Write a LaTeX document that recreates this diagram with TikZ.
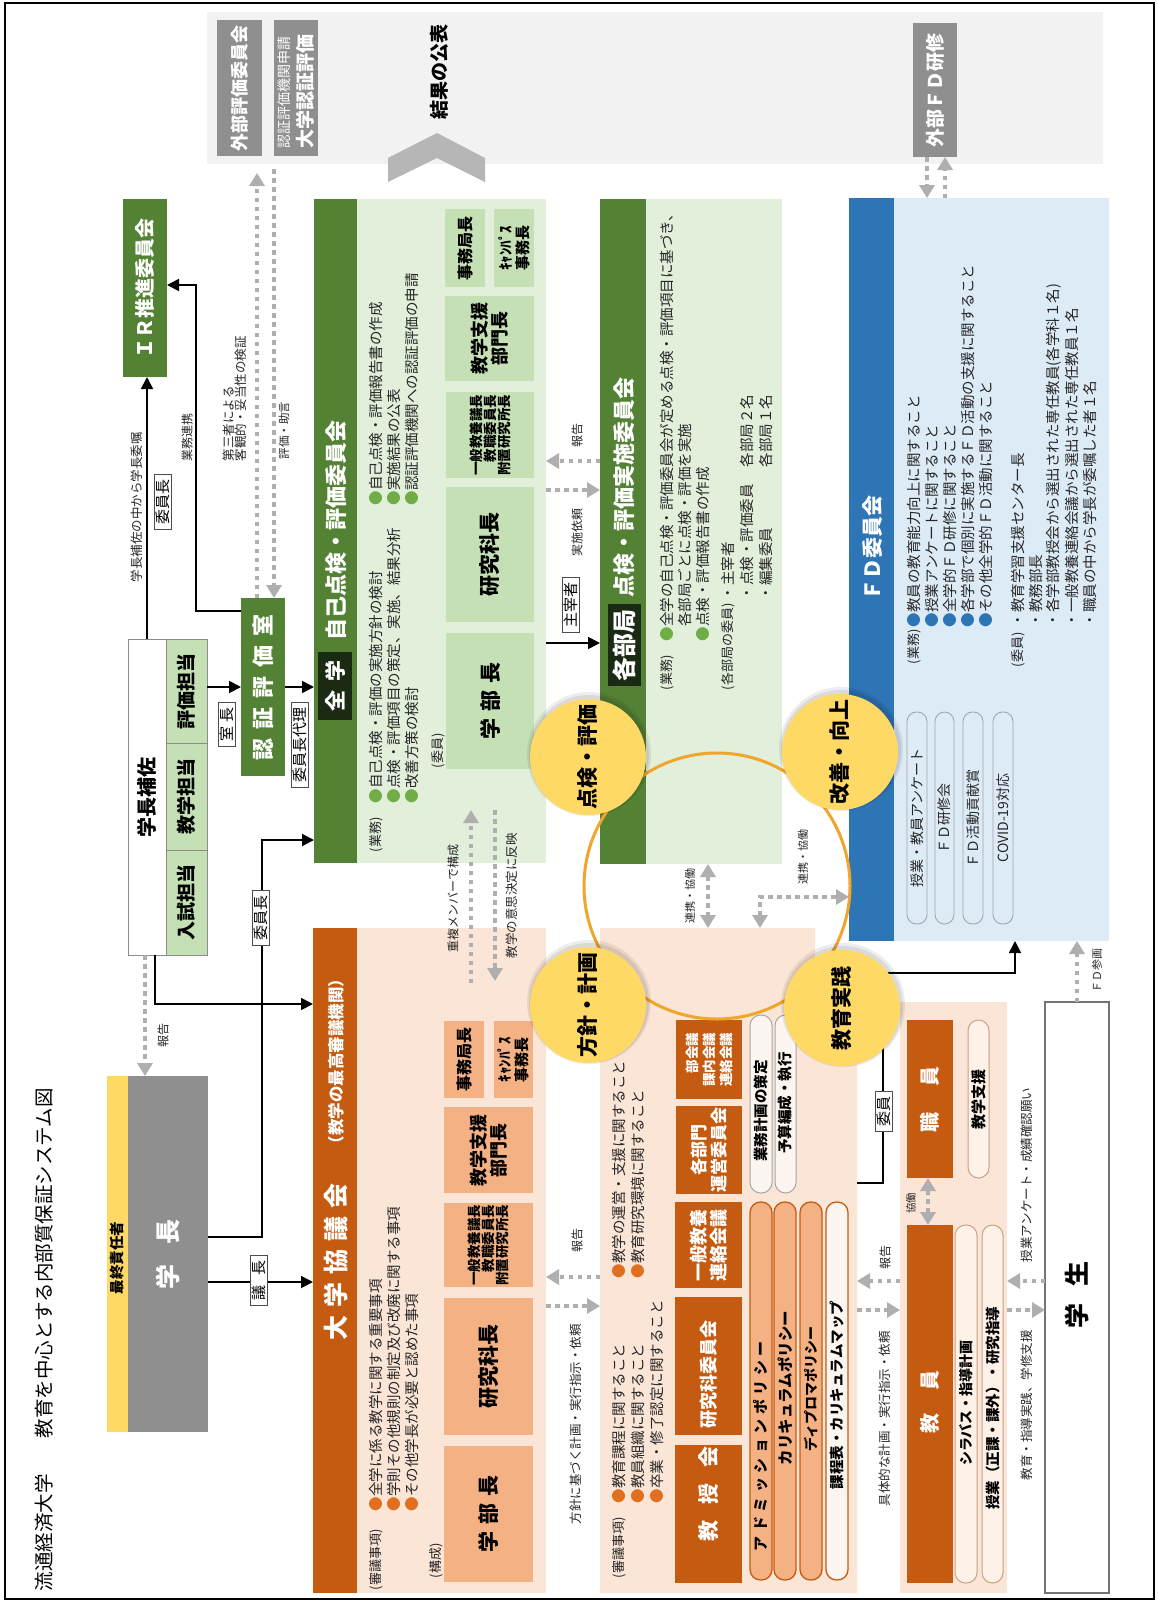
\documentclass[tikz,border=0pt]{standalone}
\usepackage{fontspec}
\setmainfont{Noto Sans CJK JP}
\usetikzlibrary{arrows.meta,fit}
\definecolor{dg}{HTML}{548235}
\definecolor{lg}{HTML}{E2EFDA}
\definecolor{mg}{HTML}{C5E0B4}
\definecolor{blk}{HTML}{1B2A12}
\definecolor{dor}{HTML}{C55A11}
\definecolor{pch}{HTML}{FBE5D6}
\definecolor{sal}{HTML}{F4B183}
\definecolor{blu}{HTML}{2E75B6}
\definecolor{lbl}{HTML}{DDEBF7}
\definecolor{yel}{HTML}{FFD966}
\definecolor{gy}{HTML}{8F8F8F}
\definecolor{pg}{HTML}{F2F2F2}
\definecolor{dotc}{HTML}{AFAFAF}
\definecolor{ringc}{HTML}{F0A52B}
\definecolor{bg}{HTML}{70AD47}
\definecolor{bo}{HTML}{E07020}
\definecolor{bb}{HTML}{2E75B6}
\definecolor{tx}{HTML}{262626}
\definecolor{pillfill}{HTML}{FDF1E8}
\definecolor{pillline}{HTML}{C8A084}
\newcommand\fsz[1]{\fontsize{#1}{#1}\selectfont}
\newcommand\bx[6]{\node[fit={(#2,#3)(#4,#5)},inner sep=0pt,outer sep=0pt,#6] (#1) {};}
\newcommand\bl[1]{\textcolor{#1}{●}}
\tikzset{
  rt/.style={rotate=90,inner sep=0pt,outer sep=0pt},
  bt/.style={rt,anchor=west,font=\fsz{14.5},text=tx},
  hd/.style={rt,anchor=west,font=\fsz{13},text=tx},
  note/.style={rt,font=\fsz{#1},text=tx},
  tag/.style={rt,draw=black!70,fill=white,line width=0.8pt,inner xsep=5pt,inner ysep=1.5pt,font=\fsz{15},text=black},
  arr/.style={draw=black,line width=1.8pt,>={Triangle[length=12pt,width=12pt]},->},
  dotar/.style={draw=dotc,line width=4.5pt,dash pattern=on 4.5pt off 4.5pt,>={Triangle[length=13pt,width=15pt]},->},
  dotdbl/.style={dotar,<->},
  wb/.style={rt,text=white,font=\fsz{#1}\bfseries},
  kb/.style={rt,text=black,font=\fsz{#1}\bfseries},
  pillO/.style={fill=sal,draw=dor,line width=1.3pt,rounded corners=10.5pt},
  pillL/.style={fill=pch!40!white,draw=black!35,line width=1pt,rounded corners=10.5pt},
  pillS/.style={fill=pillfill,draw=pillline,line width=1pt,rounded corners=10.5pt},
  pillB/.style={fill=lbl,draw=black!35,line width=0.9pt,rounded corners=9.5pt},
  ycirc/.style={circle,fill=yel,minimum size=116pt,inner sep=0pt},
}
\begin{document}
\begin{tikzpicture}[x=1pt,y=-1pt]
\fill[white] (0,0) rectangle (1157,1609);
\useasboundingbox (0,0) rectangle (1157,1609);
\draw[line width=2pt] (5,3) rectangle (1154,1599);

% title
\node[rt,anchor=west,font=\fsz{19.5},text=black] (title) at (44,1591) {流通経済大学\hspace{36pt}教育を中心とする内部質保証システム図};

% top gray panel
\bx{outer}{207}{12}{1103}{164}{fill=pg}
\bx{gaibu}{217}{20}{262}{156}{fill=gy}
\node[wb=18] (gaibuT) at (gaibu) {外部評価委員会};
\bx{daigakuN}{274}{20}{318}{156}{fill=gy}
\node[rt,anchor=west,text=white,font=\fsz{14}] (dnA) at (284,148) {認証評価機関申請};
\node[rt,anchor=west,text=white,font=\fsz{19}\bfseries] (dnB) at (305,148) {大学認証評価};
\bx{gaibuFD}{913}{23}{957}{157}{fill=gy}
\node[wb=19] (gfdT) at (gaibuFD) {外部ＦＤ研修};
\fill[gy!65] (388,158) -- (437,133) -- (485,158) -- (485,182) -- (437,158) -- (388,182) -- cycle;
\node[kb=19] (kekka) at (439,72) {結果の公表};

% 学長
\bx{gakuchoY}{107}{1076}{128}{1432}{fill=yel}
\bx{gakucho}{128}{1076}{208}{1432}{fill=gy}
\node[kb=14.5] (saishu) at (117.5,1258) {最終責任者};
\node[wb=25] (gakuchoT) at (gakucho) {学\hspace{20pt}長};

% 学長補佐
\bx{hosa}{128}{639}{207}{955}{fill=white,draw=black!45,line width=1pt}
\node[kb=20] (hosaT) at (147,797) {学長補佐};
\bx{hyoka}{166}{639}{207}{743}{fill=mg,draw=black!45,line width=1pt}
\bx{kyogaku}{166}{743}{207}{850}{fill=mg,draw=black!45,line width=1pt}
\bx{nyushi}{166}{850}{207}{955}{fill=mg,draw=black!45,line width=1pt}
\node[kb=19] (hyokaT) at (hyoka) {評価担当};
\node[kb=19] (kyogakuT) at (kyogaku) {教学担当};
\node[kb=19] (nyushiT) at (nyushi) {入試担当};

% IR
\bx{ir}{123}{199}{167}{377}{fill=dg}
\node[wb=20] (irT) at (ir) {ＩＲ推進委員会};

% 認証評価室
\bx{ninsho}{241}{598}{285}{776}{fill=dg}
\node[wb=22] (ninshoT) at (ninsho) {認\hspace{9pt}証\hspace{9pt}評\hspace{9pt}価\hspace{9pt}室};

% 全学 自己点検・評価委員会
\bx{zgh}{314}{199}{357}{863}{fill=dg}
\bx{zgb}{357}{199}{546}{863}{fill=lg}
\bx{zgk}{318}{652}{352}{720}{fill=blk}
\node[wb=21] (zgkT) at (zgk) {全\hspace{9pt}学};
\node[wb=22,anchor=west] (zghT) at (336,640) {自己点検・評価委員会};
\node[hd] (zg1) at (376,852) {(業務)};
\node[bt] (zg2) at (376,803) {\bl{bg}自己点検・評価の実施方針の検討};
\node[bt] (zg3) at (394,803) {\bl{bg}点検・評価項目の策定、実施、結果分析};
\node[bt] (zg4) at (412,803) {\bl{bg}改善方策の検討};
\node[bt] (zg5) at (376,505) {\bl{bg}自己点検・評価報告書の作成};
\node[bt] (zg6) at (394,505) {\bl{bg}実施結果の公表};
\node[bt] (zg7) at (412,505) {\bl{bg}認証評価機関への認証評価の申請};
\node[hd] (zg8) at (438,768) {(委員)};
\bx{zA}{446}{633}{534}{769}{fill=mg}
\node[kb=21] (zAT) at (zA) {学\hspace{7pt}部\hspace{7pt}長};
\bx{zB}{446}{487}{534}{622}{fill=mg}
\node[kb=21] (zBT) at (zB) {研究科長};
\bx{zC}{446}{392}{534}{478}{fill=mg}
\node[rt,align=right,font=\fontsize{13.5}{14}\selectfont\bfseries] (zCT) at (zC) {一般教養議長\\教職委員長\\附置研究所長};
\bx{zD}{445}{296}{534}{381}{fill=mg}
\node[rt,align=center,font=\fontsize{18}{20}\selectfont\bfseries] (zDT) at (zD) {教学支援\\部門長};
\bx{zE}{445}{209}{485}{287}{fill=mg}
\node[kb=16] (zET) at (zE) {事務局長};
\bx{zF}{494}{209}{534}{287}{fill=mg}
\node[rt,align=center,font=\fontsize{15}{17}\selectfont\bfseries] (zFT) at (zF) {ｷｬﾝﾊﾟｽ\\事務長};

% 各部局 点検・評価実施委員会
\bx{kbh}{600}{199}{646}{864}{fill=dg}
\bx{kbb}{646}{199}{782}{864}{fill=lg}
\bx{kbk}{608}{604}{641}{686}{fill=blk}
\node[wb=24] (kbkT) at (kbk) {各部局};
\node[wb=22,anchor=west] (kbhT) at (624,597) {点検・評価実施委員会};
\node[hd] (kb1) at (667,690) {(業務)};
\node[bt] (kb2) at (667,641) {\bl{bg}全学の自己点検・評価委員会が定める点検・評価項目に基づき、};
\node[bt] (kb3) at (685,641) {　各部局ごとに点検・評価を実施};
\node[bt] (kb4) at (703,641) {\bl{bg}点検・評価報告書の作成};
\node[hd] (kb5) at (728,690) {(各部局の委員)};
\node[bt] (kb6) at (728,600) {・主宰者};
\node[bt] (kb7) at (747,600) {・点検・評価委員};
\node[bt] (kb8) at (747,467) {各部局２名};
\node[bt] (kb9) at (766,600) {・編集委員};
\node[bt] (kb10) at (766,467) {各部局１名};

% FD委員会
\bx{fdh}{849}{198}{894}{941}{fill=blu}
\bx{fdb}{894}{198}{1109}{941}{fill=lbl}
\node[wb=21] (fdhT) at (873,548) {ＦＤ委員会};
\node[hd] (fd1) at (914,664) {(業務)};
\node[bt] (fd2) at (914,627) {\bl{bb}教員の教育能力向上に関すること};
\node[bt] (fd3) at (932,627) {\bl{bb}授業アンケートに関すること};
\node[bt] (fd4) at (950,627) {\bl{bb}全学的ＦＤ研修に関すること};
\node[bt] (fd5) at (968,627) {\bl{bb}各学部で個別に実施するＦＤ活動の支援に関すること};
\node[bt] (fd6) at (986,627) {\bl{bb}その他全学的ＦＤ活動に関すること};
\node[hd] (fd7) at (1018,667) {(委員)};
\node[bt] (fd8) at (1018,627) {・教育学習支援センター長};
\node[bt] (fd9) at (1036,627) {・教務部長};
\node[bt] (fd10) at (1054,627) {・各学部教授会から選出された専任教員(各学科１名)};
\node[bt] (fd11) at (1072,627) {・一般教養連絡会議から選出された専任教員１名};
\node[bt] (fd12) at (1090,627) {・職員の中から学長が委嘱した者１名};
\bx{fp1}{907}{712}{927}{924}{pillB}
\node[rt,font=\fsz{14},text=tx] (fp1T) at (fp1) {授業・教員アンケート};
\bx{fp2}{935}{712}{954}{924}{pillB}
\node[rt,font=\fsz{14},text=tx] (fp2T) at (fp2) {ＦＤ研修会};
\bx{fp3}{963}{712}{983}{924}{pillB}
\node[rt,font=\fsz{14},text=tx] (fp3T) at (fp3) {ＦＤ活動貢献賞};
\bx{fp4}{993}{712}{1013}{924}{pillB}
\node[rt,font=\fsz{14},text=tx] (fp4T) at (fp4) {COVID-19対応};

% 大学協議会
\bx{dkh}{313}{928}{357}{1593}{fill=dor}
\bx{dkb}{357}{928}{546}{1593}{fill=pch}
\node[wb=25,anchor=west] (dkhT) at (336,1340) {大\hspace{8pt}学\hspace{8pt}協\hspace{8pt}議\hspace{8pt}会};
\node[wb=16.5,anchor=west] (dkhT2) at (336,1152) {（教学の最高審議機関）};
\node[hd] (dk1) at (376,1590) {(審議事項)};
\node[bt] (dk2) at (376,1511) {\bl{bo}全学に係る教学に関する重要事項};
\node[bt] (dk3) at (394,1511) {\bl{bo}学則その他規則の制定及び改廃に関する事項};
\node[bt] (dk4) at (412,1511) {\bl{bo}その他学長が必要と認めた事項};
\node[hd] (dk5) at (436,1578) {(構成)};
\bx{dA}{444}{1446}{533}{1582}{fill=sal}
\node[kb=21] (dAT) at (dA) {学\hspace{7pt}部\hspace{7pt}長};
\bx{dB}{444}{1298}{533}{1435}{fill=sal}
\node[kb=21] (dBT) at (dB) {研究科長};
\bx{dC}{444}{1203}{533}{1287}{fill=sal}
\node[rt,align=right,font=\fontsize{13.5}{14}\selectfont\bfseries] (dCT) at (dC) {一般教養議長\\教職委員長\\附置研究所長};
\bx{dD}{444}{1107}{533}{1193}{fill=sal}
\node[rt,align=center,font=\fontsize{18}{20}\selectfont\bfseries] (dDT) at (dD) {教学支援\\部門長};
\bx{dE}{444}{1021}{484}{1098}{fill=sal}
\node[kb=16] (dET) at (dE) {事務局長};
\bx{dF}{494}{1021}{533}{1098}{fill=sal}
\node[rt,align=center,font=\fontsize{15}{17}\selectfont\bfseries] (dFT) at (dF) {ｷｬﾝﾊﾟｽ\\事務長};

% 教授会 panel (top right corner cut back)
\fill[pch] (600,928) -- (815,928) -- (815,1010) -- (857,1010) -- (857,1593) -- (600,1593) -- cycle;
\bx{kjp}{600}{928}{857}{1593}{}
\node[hd] (kj1) at (619,1578) {(審議事項)};
\node[bt] (kj2) at (619,1503) {\bl{bo}教育課程に関すること};
\node[bt] (kj3) at (638,1503) {\bl{bo}教員組織に関すること};
\node[bt] (kj4) at (657,1503) {\bl{bo}卒業・修了認定に関すること};
\node[bt] (kj5) at (619,1278) {\bl{bo}教学の運営・支援に関すること};
\node[bt] (kj6) at (638,1278) {\bl{bo}教育研究環境に関すること};
\bx{kA}{675}{1445}{742}{1583}{fill=dor}
\node[wb=21] (kAT) at (708.5,1494) {教\hspace{16pt}授\hspace{16pt}会};
\bx{kB}{675}{1297}{742}{1435}{fill=dor}
\node[wb=18] (kBT) at (708.5,1374) {研究科委員会};
\bx{kC}{675}{1202}{742}{1288}{fill=dor}
\node[rt,align=center,text=white,font=\fontsize{18}{20}\selectfont\bfseries] (kCT) at (kC) {一般教養\\連絡会議};
\bx{kD}{676}{1106}{742}{1194}{fill=dor}
\node[rt,align=center,text=white,font=\fontsize{17}{20}\selectfont\bfseries] (kDT) at (kD) {各部門\\運営委員会};
\bx{kE}{676}{1020}{742}{1099}{fill=dor}
\node[rt,align=right,text=white,font=\fontsize{13.5}{17}\selectfont\bfseries] (kET) at (kE) {部会議\\課内会議\\連絡会議};
\bx{pA}{750}{1202}{772}{1580}{pillO}
\node[rt,font=\fsz{15}\bfseries\addfontfeatures{LetterSpace=30}] (pAT) at (761,1446) {アドミッションポリシー};
\bx{pB}{774}{1202}{796}{1580}{pillO}
\node[kb=15.5] (pBT) at (785,1388) {カリキュラムポリシー};
\bx{pC}{800}{1202}{822}{1580}{pillO}
\node[kb=14] (pCT) at (811,1389) {ディプロマポリシー};
\bx{pD}{826}{1202}{848}{1580}{pillO,fill=pch!40!white}
\node[kb=14.5] (pDT) at (837,1395) {課程表・カリキュラムマップ};
\bx{pE}{750}{1015}{772}{1193}{pillL}
\node[kb=14.5] (pET) at (761,1111) {業務計画の策定};
\bx{pF}{775}{1015}{796}{1193}{pillL}
\node[kb=14.5] (pFT) at (785.5,1103) {予算編成・執行};

% 職員・教員 panel
\bx{stp}{900}{1002}{1007}{1593}{fill=pch}
\bx{shokuin}{907}{1020}{953}{1178}{fill=dor}
\node[wb=20] (shokuinT) at (shokuin) {職\hspace{26pt}員};
\bx{sp1}{968}{1020}{989}{1178}{pillS}
\node[kb=15] (sp1T) at (sp1) {教学支援};
\bx{kyoin}{907}{1225}{953}{1583}{fill=dor}
\node[wb=20] (kyoinT) at (930,1402) {教\hspace{23pt}員};
\bx{sp2}{955}{1225}{977}{1583}{pillS}
\node[kb=14] (sp2T) at (966,1403) {シラバス・指導計画};
\bx{sp3}{982}{1225}{1003}{1583}{pillS}
\node[kb=14.5] (sp3T) at (992.5,1408) {授業（正課・課外）・研究指導};

% 学生
\bx{gakusei}{1045}{1002}{1109}{1593}{fill=white,draw=black!55,line width=1.3pt}
\node[kb=25] (gakuseiT) at (1077,1295) {学\hspace{17pt}生};

% ring
\draw[ringc,line width=3pt] (717,886) circle (133);

% solid connectors
\draw[arr] (hosa.north -| 147,0) -- (ir.south -| 147,0);
\draw[arr] (ninsho.west |- 0,611) -- (196,611) -- (196,285) -- (ir.east |- 0,285);
\draw[arr] (hyoka.east |- 0,687) -- (ninsho.west |- 0,687);
\draw[arr] (ninsho.east |- 0,687) -- (zgh.west |- 0,687);
\draw[arr] (gakucho.east |- 0,1237) -- (262,1237) -- (262,840) -- (zgh.west |- 0,840);
\draw[arr] (gakucho.east |- 0,1282) -- (dkh.west |- 0,1282);
\draw[arr] (hosa.south -| 155,0) -- (155,1004) -- (dkh.west |- 0,1004);
\draw[arr] (zgb.east |- 0,643) -- (kbh.west |- 0,643);
\draw[arr] (kjp.east |- 0,1183) -- (883,1183) -- (883,973) -- (1015,973) -- (fdb.south -| 1015,0);

% dotted connectors
\draw[dotar] (ninsho.north -| 257,0) -- (257,173);
\draw[dotar] (274,169) -- (ninsho.north -| 274,0);
\draw[dotar] (hosa.south -| 145,0) -- (gakucho.north -| 145,0);
\draw[dotar] (471,983) -- (471,810);
\draw[dotar] (495,810) -- (495,981);
\draw[dotar] (kbh.west |- 0,461) -- (zgb.east |- 0,461);
\draw[dotar] (zgb.east |- 0,490) -- (kbh.west |- 0,490);
\draw[dotar] (kjp.west |- 0,1277) -- (dkb.east |- 0,1277);
\draw[dotar] (dkb.east |- 0,1306) -- (kjp.west |- 0,1306);
\draw[dotar] (stp.west |- 0,1281) -- (kjp.east |- 0,1281);
\draw[dotar] (kjp.east |- 0,1310) -- (stp.west |- 0,1310);
\draw[dotar] (gakusei.west |- 0,1281) -- (stp.east |- 0,1281);
\draw[dotar] (stp.east |- 0,1310) -- (gakusei.west |- 0,1310);
\draw[dotdbl] (shokuin.south -| 928,0) -- (kyoin.north -| 928,0);
\draw[dotar] (gakusei.north -| 1077,0) -- (fdb.south -| 1077,0);
\draw[dotar] (gaibuFD.south -| 927,0) -- (fdb.north -| 927,0);
\draw[dotar] (fdb.north -| 945,0) -- (gaibuFD.south -| 945,0);
\draw[dotdbl] (kbb.south -| 708,0) -- (kjp.north -| 708,0);
\draw[dotdbl] (kjp.north -| 760,0) -- (760,897) -- (fdh.west |- 0,897);

% labels
\node[note=12.5,anchor=west] (l1) at (137,582) {学長補佐の中から学長委嘱};
\node[tag] (l2) at (163,502) {委員長};
\node[note=12] (l3) at (187,437) {業務連携};
\node[note=12.5,anchor=west] (l4) at (229,461) {第三者による};
\node[note=12.5,anchor=west] (l5) at (241,461) {客観的・妥当性の検証};
\node[note=11.5,anchor=west] (l6) at (284,459) {評価・助言};
\node[tag] (l7) at (227,724) {室\hspace{4pt}長};
\node[tag] (l8) at (300,745) {委員長代理};
\node[tag] (l9) at (261,918) {委員長};
\node[tag] (l10) at (259,1280) {議\hspace{10pt}長};
\node[note=12] (l11) at (163,1035) {報告};
\node[note=12,anchor=west] (l12) at (453,952) {重複メンバーで構成};
\node[note=12.5,anchor=west] (l13) at (512,958) {教学の意思決定に反映};
\node[note=12] (l14) at (577,435) {報告};
\node[note=12] (l15) at (577,532) {実施依頼};
\node[tag] (l16) at (571,605) {主宰者};
\node[note=12] (l17) at (577,1240) {報告};
\node[note=12.5,anchor=west] (l18) at (576,1524) {方針に基づく計画・実行指示・依頼};
\node[note=12] (l19) at (885,1257) {報告};
\node[note=12.5,anchor=west] (l20) at (885,1506) {具体的な計画・実行指示・依頼};
\node[note=12.5,anchor=west] (l21) at (1027,1262) {授業アンケート・成績確認願い};
\node[note=12.5,anchor=west] (l22) at (1027,1480) {教育・指導実践、学修支援};
\node[note=10.5] (l23) at (911,1203) {協働};
\node[note=11] (l24) at (1097,970) {ＦＤ参画};
\node[note=11] (l25) at (690,896) {連携・協働};
\node[note=11] (l26) at (803,857) {連携・協働};
\node[tag] (l27) at (884,1111) {委員};

% yellow circles
\fill[black,opacity=0.07] (589,754) circle (62);
\fill[black,opacity=0.08] (589,755) circle (60);
\node[ycirc] (cA) at (588,757) {};
\node[kb=21] (cAT) at (cA) {点検・評価};
\fill[black,opacity=0.07] (589,1002) circle (62);
\fill[black,opacity=0.08] (589,1003) circle (60);
\node[ycirc] (cB) at (588,1005) {};
\node[kb=21] (cBT) at (cB) {方針・計画};
\fill[black,opacity=0.07] (841,749) circle (62);
\fill[black,opacity=0.08] (841,750) circle (60);
\node[ycirc] (cC) at (840,752) {};
\node[kb=21] (cCT) at (cC) {改善・向上};
\fill[black,opacity=0.07] (843,1005) circle (62);
\fill[black,opacity=0.08] (843,1006) circle (60);
\node[ycirc] (cD) at (842,1008) {};
\node[kb=21] (cDT) at (cD) {教育実践};
\end{tikzpicture}
\end{document}
